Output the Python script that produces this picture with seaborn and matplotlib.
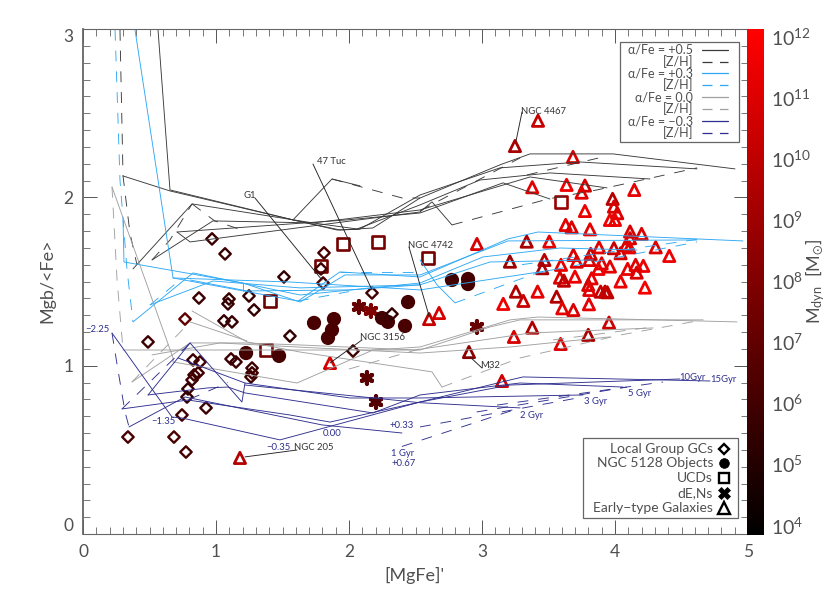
import numpy as np
import pandas as pd
import seaborn as sns
import matplotlib
matplotlib.use("Agg")
import matplotlib.pyplot as plt
from matplotlib.colors import LogNorm, LinearSegmentedColormap
from matplotlib.cm import ScalarMappable
from matplotlib.patches import Rectangle
from matplotlib.lines import Line2D
from matplotlib.ticker import MultipleLocator, NullLocator

# ---------- data ----------
gc_x = [.97,1.068,1.812,1.789,1.805,1.511,2.173,2.323,.872,1.098,1.09,1.248,1.286,1.06,1.12,.767,.489,1.556,2.03,.827,.88,1.113,1.15,1.271,1.271,1.263,.865,.835,.82,.789,.782,.925,.744,.338,.684,.774]
gc_y = [1.753,1.664,1.67,1.575,1.491,1.527,1.432,1.307,1.402,1.396,1.367,1.414,1.331,1.266,1.26,1.277,1.141,1.176,1.087,1.034,1.022,1.04,1.022,.986,.957,.933,.957,.945,.915,.862,.814,.749,.707,.576,.576,.487]
gc_m = [5.7,5.7,6.2,6.0,6.3,5.5,6.0,5.5,5.8,5.6,5.6,5.6,5.5,5.6,5.6,6.9,5.8,5.5,6.0,5.8,6.0,5.8,5.8,5.8,5.9,6.0,6.0,6.0,6.0,5.6,5.6,5.8,6.0,6.2,6.2,6.1]

ncirc_x = [1.226,1.474,1.737,1.887,1.872,1.842,2.248,2.293,2.421,2.444,2.774,2.895,2.895]
ncirc_y = [1.075,1.058,1.254,1.277,1.212,1.165,1.283,1.26,1.236,1.378,1.509,1.515,1.485]
ncirc_m = [6.1,6.1,6.2,6.3,6.3,6.2,6.0,6.0,6.2,6.1,6.0,6.1,6.0]

ucd_x = [1.955,2.218,1.789,1.406,1.376,3.594,2.594]
ucd_y = [1.723,1.735,1.592,1.384,1.093,1.973,1.64]
ucd_m = [7.6,7.7,7.6,7.4,7.5,8.8,7.6]

de_x = [2.075,2.165,2.135,2.203,2.962]
de_y = [1.349,1.325,.927,.784,1.23]
de_m = [7.2,8.0,6.8,6.5,7.2]

tri_x = [3.378,3.636,3.774,3.749,4.145,3.982,3.992,4.017,3.962,4.0,
         3.774,3.629,3.674,3.812,3.336,3.506,4.113,4.2,4.113,3.88,
         3.992,4.083,4.108,4.306,4.408,3.687,3.817,4.042,3.712,3.807,
         3.21,3.469,3.453,3.594,3.9,3.962,3.875,4.155,4.213,4.095,
         4.163,3.699,3.586,3.616,3.824,3.799,4.042,3.807,3.255,3.418,
         3.892,3.925,3.942,4.225,3.561,3.311,3.16,3.604,3.687,3.804,
         3.955,3.378,3.24,3.799,3.591,3.421,3.248,3.684,2.962,3.15,
         2.602,2.677,2.902,1.857,1.18]
tri_y = [2.06,2.074,2.07,2.028,2.044,1.991,1.945,1.906,1.866,1.866,
         1.919,1.836,1.822,1.81,1.737,1.737,1.797,1.783,1.757,1.703,
         1.698,1.717,1.703,1.703,1.652,1.658,1.664,1.668,1.618,1.628,
         1.618,1.628,1.579,1.599,1.608,1.589,1.575,1.599,1.593,1.575,
         1.553,1.529,1.523,1.505,1.519,1.48,1.5,1.45,1.44,1.44,
         1.44,1.44,1.436,1.464,1.41,1.385,1.367,1.341,1.331,1.365,
         1.256,1.226,1.171,1.183,1.129,2.455,2.305,2.24,1.723,.909,
         1.277,1.313,1.081,1.016,.452]
tri_m = [11.2,11.6,10.6,11.1,11.3,9.8,10.9,11.0,11.5,11.5,
         11.5,11.2,10.9,11.3,9.4,11.3,10.9,11.0,10.8,11.1,
         10.4,11.0,11.3,11.0,11.5,11.0,10.4,10.8,11.0,11.0,
         8.9,9.8,9.3,11.3,11.2,11.2,11.5,11.2,11.5,11.4,
         10.9,11.6,10.9,10.0,11.4,10.7,11.5,11.3,9.6,11.3,
         10.3,10.1,10.1,11.8,9.6,10.4,11.6,11.2,10.9,11.3,
         10.5,9.5,10.8,9.4,11.0,10.3,9.3,10.9,10.9,10.6,
         10.2,10.8,8.4,10.7,9.7]

k_solid = [
    [(.564,2.995),(.654,2.044),(1.579,1.866),(1.932,1.806),(2.18,1.818),(2.534,1.996),(3.135,2.193),(3.361,2.258),(3.985,2.258),(4.902,2.169)],
    [(.301,2.127),(.654,2.038),(1.579,1.866),(1.91,1.806),(2.08,1.81),(2.534,2.014),(3.135,2.175),(3.737,2.21),(4.617,2.169)],
    [(.376,1.575),(.82,1.961),(1.729,1.848),(2.06,1.812),(2.534,1.955),(2.985,2.103),(3.511,2.145),(4.263,2.109)],
    [(.519,1.628),(.977,1.86),(1.729,1.848),(2.534,1.925),(3.361,2.121),(3.94,2.056)],
    [(.707,1.794),(1.985,1.866),(2.534,1.907),(3.158,2.086),(3.511,1.99)],
    [(.707,1.794),(.805,1.735),(1.782,1.836),(2.534,1.913),(2.624,1.973),(2.774,1.836)],
    [(1.579,1.866),(1.872,2.109),(2.083,2.068)],
]
k_dash = [
    [(.278,2.995),(.301,2.127),(.353,1.788),(.406,1.598)],
    [(.519,1.628),(.654,1.747),(.82,1.961)],
    [(.82,1.961),(.99,1.86),(1.18,1.81)],
    [(1.872,2.109),(2.4,1.996),(2.534,1.996)],
    [(2.774,1.836),(3.496,1.99),(3.865,2.044),(4.617,2.175)],
    [(2.534,1.92),(3.286,2.234)],
    [(3.338,2.133),(3.91,2.24)],
]
b_solid = [
    [(.391,2.995),(.677,1.521),(1.617,1.384),(1.932,1.557),(2.534,1.527),(3.195,1.753),(3.421,1.794),(4.962,1.741)],
    [(.301,1.866),(.308,1.616),(1.203,1.491),(1.632,1.378),(1.97,1.539),(2.534,1.539),(3.195,1.741),(4.617,1.747)],
    [(.376,1.26),(.827,1.551),(1.632,1.42),(2.534,1.491),(3.008,1.646),(3.586,1.699),(4.165,1.687)],
    [(.504,1.361),(.977,1.503),(1.632,1.462),(2.534,1.48),(3.06,1.616),(3.835,1.628)],
    [(.677,1.521),(1.556,1.497),(2.534,1.45),(3.534,1.569)],
    [(.805,1.509),(1.233,1.444),(2.008,1.45),(2.534,1.48)],
    [(1.203,1.491),(1.203,1.444)],
    [(2.534,1.628),(2.662,1.48),(2.797,1.373)],
]
b_dash = [
    [(.241,2.995),(.278,2.103),(.331,1.569),(.376,1.26)],
    [(.504,1.361),(.729,1.509)],
    [(1.932,1.557),(2.534,1.557)],
    [(1.617,1.384),(2.0,1.44)],
    [(2.797,1.373),(3.414,1.551),(4.617,1.735)],
    [(3.3,1.6),(4.615,1.75)],
]
g_solid = [
    [(.218,2.062),(.677,1.046),(.677,1.022),(1.609,.897),(2.18,1.093),(2.534,1.111),(3.211,1.272),(3.421,1.289),(4.917,1.26)],
    [(.301,1.093),(.977,1.093),(2.534,1.093),(3.06,1.23),(3.286,1.272),(4.662,1.272)],
    [(.368,.903),(.805,1.135),(1.218,1.135),(1.632,1.123),(2.496,1.093),(3.361,1.194),(4.286,1.224)],
    [(.519,1.064),(1.03,1.135),(1.632,1.11),(2.534,1.075),(3.211,1.111),(3.962,1.171)],
    [(.82,1.325),(1.233,1.141),(1.632,1.081),(2.534,.974),(2.624,.963),(2.699,.873)],
    [(.805,1.26),(1.233,1.147)],
]
g_dash = [
    [(.218,2.062),(.256,1.51),(.301,1.093)],
    [(2.699,.873),(3.286,1.046),(4.038,1.182),(4.662,1.272)],
    [(.368,.903),(.805,1.26)],
    [(2.0,.98),(2.534,1.1)],
    [(3.534,1.153),(4.286,1.23)],
]
n_solid = [
    [(.218,1.194),(.669,.695),(.744,.689),(1.481,.559),(2.534,.784),(3.211,.915),(3.308,.933),(4.714,.909)],
    [(.346,.636),(.767,.814),(1.797,.648),(2.398,.6)],
    [(.293,.743),(.789,.796),(1.556,.707),(1.857,.665),(2.534,.784),(3.21,.885),(4.489,.921)],
    [(.489,.826),(.94,.868),(1.09,.873),(1.218,.838),(2.18,.719),(2.534,.826),(3.286,.897),(4.06,.873)],
    [(.805,1.135),(1.195,.784),(1.218,.897)],
    [(.805,1.135),(.489,.826)],
    [(.714,1.046),(1.218,.897),(2.008,.808),(2.534,.808),(3.759,.826)],
    [(1.218,.885),(2.534,.78),(3.286,.749)],
]
n_dash = [
    [(.218,1.194),(.263,.974),(.316,.725),(.346,.636)],
    [(.293,.743),(.805,1.135)],
    [(.8,.8),(1.09,.9)],
    [(2.398,.52),(3.286,.749)],
    [(2.534,.636),(3.759,.814)],
    [(2.96,.725),(4.09,.873)],
    [(3.113,.766),(4.361,.903)],
]
leaders = [
    [(3.301,2.507),(3.256,2.335)],
    [(1.729,2.198),(2.173,1.45)],
    [(1.293,1.996),(1.797,1.509)],
    [(2.451,1.705),(2.602,1.295)],
    [(2.098,1.153),(1.857,1.016)],
    [(3.0,.986),(2.91,1.052)],
    [(1.609,.499),(1.218,.458)],
]
grid_colors = {"k": "#3a3a3a", "b": "#2fa9f5", "g": "#a0a0a0", "n": "#2f2f8f"}

# ---------- style ----------
sns.set_theme(style="white")
plt.rcParams["font.family"] = ["Lato", "DejaVu Sans"]
plt.rcParams["font.weight"] = "normal"
plt.rcParams["mathtext.default"] = "regular"
TXT = "#505050"
W, H = 830, 593
fig = plt.figure(figsize=(W/100, H/100), dpi=100)
def fx(p): return p/W
def fy(p): return 1-p/H
ax = fig.add_axes([fx(83), fy(534), (748-83)/W, (534-29)/H])
ax.set_xlim(0, 5); ax.set_ylim(0, 3)

cmap = LinearSegmentedColormap.from_list("blackred", ["#000000", "#ff0000"])
norm = LogNorm(10**3.84, 10**12.13)

def draw(lines, color, dashed=False):
    for ln in lines:
        d = pd.DataFrame(ln, columns=["x", "y"])
        l = sns.lineplot(data=d, x="x", y="y", sort=False, estimator=None, ax=ax,
                         color=color, linewidth=0.65, legend=False)
        if dashed:
            l.get_lines()[-1].set_dashes((12, 11))

draw(k_solid, grid_colors["k"]); draw(k_dash, grid_colors["k"], True)
draw(b_solid, grid_colors["b"]); draw(b_dash, grid_colors["b"], True)
draw(g_solid, grid_colors["g"]); draw(g_dash, grid_colors["g"], True)
draw(n_solid, grid_colors["n"]); draw(n_dash, grid_colors["n"], True)
for ln in leaders:
    d = pd.DataFrame(ln, columns=["x", "y"])
    sns.lineplot(data=d, x="x", y="y", sort=False, estimator=None, ax=ax,
                 color="#222222", linewidth=0.65, legend=False)

def pts(xs, ys, ms, marker, s, lw, opened=True):
    d = pd.DataFrame({"x": xs, "y": ys, "m": 10.0**np.array(ms)})
    before = len(ax.collections)
    sns.scatterplot(data=d, x="x", y="y", hue="m", hue_norm=norm, palette=cmap,
                    marker=marker, s=s, linewidth=lw, legend=False, ax=ax)
    c = ax.collections[before]
    if opened:
        c.set_edgecolors(c.get_facecolors())
        c.set_facecolors("none")
    else:
        c.set_edgecolors("none")

pts(tri_x, tri_y, tri_m, "^", 66, 2.0)
pts(ucd_x, ucd_y, ucd_m, "s", 72, 1.9)
pts(de_x, de_y, de_m, (6, 2, 0), 70, 3.0)
pts(ncirc_x, ncirc_y, ncirc_m, "o", 105, 0, opened=False)
pts(gc_x, gc_y, gc_m, "D", 34, 1.7)

# ---------- axes ----------
ax.set_xlabel(""); ax.set_ylabel("")
ax.xaxis.set_major_locator(MultipleLocator(1)); ax.yaxis.set_major_locator(MultipleLocator(1))
ax.xaxis.set_minor_locator(MultipleLocator(.1)); ax.yaxis.set_minor_locator(MultipleLocator(.1))
for a in ("left", "right", "top", "bottom"):
    ax.spines[a].set_color("#666666"); ax.spines[a].set_linewidth(0.8)
ax.spines["left"].set_linewidth(1.3)
ax.tick_params(which="major", direction="in", length=10, width=0.7, color="#555555",
               top=True, right=True, left=True, bottom=True, labelsize=12.5, labelcolor=TXT, pad=7)
ax.tick_params(which="minor", direction="in", length=5, width=0.7, color="#777777",
               top=True, right=True, left=True, bottom=True)
ax.set_xticks(range(6)); ax.set_yticks(range(4))
ax.set_yticklabels(["0", "1", "2", "3"])
yl = ax.get_yticklabels(); yl[0].set_va("bottom"); yl[3].set_va("top")
fig.text(fx(414), fy(575), "[MgFe]'", ha="center", va="center", fontsize=13, color=TXT)
fig.text(fx(47), fy(281), "Mgb/<Fe>", rotation=90, ha="center", va="center", fontsize=13, color=TXT)

# ---------- colorbar ----------
cax = fig.add_axes([fx(747), fy(535), 17/W, (535-29)/H])
cb = fig.colorbar(ScalarMappable(norm=norm, cmap=cmap), cax=cax)
cb.set_ticks([10.0**e for e in range(4, 13)])
cb.ax.yaxis.set_minor_locator(NullLocator())
cb.ax.tick_params(length=0, labelsize=14, labelcolor=TXT, pad=5)
cb.outline.set_visible(False)
fig.text(fx(815), fy(281), r"M$_{dyn}$  [M$_{\odot}$]", rotation=90, ha="center", va="center",
         fontsize=13, color=TXT)

# ---------- labels ----------
for t, px, py in [("NGC 4467", 543, 111), ("47 Tuc", 331, 161), ("G1", 250, 195), ("NGC 4742", 430, 245),
                  ("NGC 3156", 382, 337), ("M32", 490, 366), ("NGC 205", 314, 447)]:
    fig.text(fx(px), fy(py), t, ha="center", va="center", fontsize=6.8, color="#333333")
for t, px, py in [("\u22122.25", 97, 329), ("\u22121.35", 163, 421), ("\u22120.35", 278, 447), ("0.00", 332, 433),
                  ("+0.33", 402, 426), ("1 Gyr", 403, 453), ("+0.67", 404, 463), ("2 Gyr", 532, 415),
                  ("3 Gyr", 596, 401), ("5 Gyr", 640, 393), ("10Gyr", 692, 377), ("15Gyr", 723, 379)]:
    fig.text(fx(px), fy(py), t, ha="center", va="center", fontsize=6.8, color=grid_colors["n"])

# ---------- legends ----------
fig.add_artist(Rectangle((fx(620), fy(142)), 119/W, 100/H, transform=fig.transFigure,
                         fc="white", ec="#666666", lw=0.9, zorder=5))
rows = [("\u03b1/Fe = +0.5", "k"), ("[Z/H]", "k"), ("\u03b1/Fe = +0.3", "b"), ("[Z/H]", "b"),
        ("\u03b1/Fe = 0.0", "g"), ("[Z/H]", "g"), ("\u03b1/Fe = \u22120.3", "n"), ("[Z/H]", "n")]
for i, ((t, c), py) in enumerate(zip(rows, [50, 62, 73, 85, 97, 109, 121, 133])):
    fig.text(fx(693), fy(py), t, ha="right", va="center", fontsize=9, color=TXT, zorder=6)
    l = Line2D([fx(702), fx(728)], [fy(py)]*2, transform=fig.transFigure, color=grid_colors[c], lw=0.9, zorder=6)
    if i % 2: l.set_dashes((8, 6))
    fig.add_artist(l)

fig.add_artist(Rectangle((fx(583), fy(518)), 155/W, 80/H, transform=fig.transFigure,
                         fc="white", ec="#666666", lw=0.9, zorder=5))
rows2 = [("Local Group GCs", "D", 449, 5.5, True), ("NGC 5128 Objects", "o", 463, 7, False),
         ("UCDs", "s", 478, 7, True), ("dE,Ns", "X", 493, 8.5, False), ("Early\u2212type Galaxies", "^", 508, 8, True)]
for t, m, py, ms, op in rows2:
    fig.text(fx(713), fy(py), t, ha="right", va="center", fontsize=10, color=TXT, zorder=6)
    fig.add_artist(Line2D([fx(724)], [fy(py)], transform=fig.transFigure, marker=m, ms=ms, color="black",
                          mfc="none" if op else "black", mew=1.7 if op else 0.5, ls="none", zorder=6))

fig.savefig("out.png", dpi=100)
